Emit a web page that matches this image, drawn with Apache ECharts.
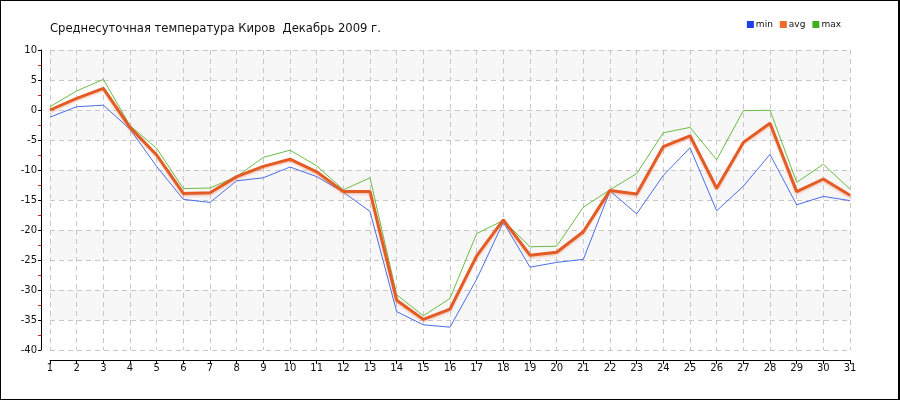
<!DOCTYPE html>
<html><head><meta charset="utf-8">
<script src="https://cdn.jsdelivr.net/npm/echarts@6/dist/echarts.min.js"></script>
<style>
html,body{margin:0;padding:0;background:#fff;}
#c{width:900px;height:400px;box-sizing:border-box;border:1px solid #000;border-right-width:2px;}
</style></head>
<body><div id="c"></div>
<script>
const days = ['1','2','3','4','5','6','7','8','9','10','11','12','13','14','15','16','17','18','19','20','21','22','23','24','25','26','27','28','29','30','31'];
const minT = [-1.2,0.55,0.8,-3.2,-9.4,-14.9,-15.4,-11.8,-11.3,-9.5,-11.1,-13.7,-16.9,-33.6,-35.8,-36.2,-28.2,-18.7,-26.2,-25.4,-24.9,-13.5,-17.3,-10.9,-6.3,-16.8,-12.7,-7.4,-15.8,-14.4,-15.1];
const avgT = [0,1.95,3.6,-2.9,-7.5,-13.9,-13.8,-11.1,-9.4,-8.2,-10.3,-13.6,-13.6,-31.7,-34.9,-33.2,-24.3,-18.3,-24.2,-23.7,-20.3,-13.4,-14.0,-6.1,-4.3,-13.05,-5.4,-2.2,-13.6,-11.5,-14.2];
const maxT = [0.55,3.17,5.1,-2.6,-6.4,-13.1,-13.0,-11.1,-7.9,-6.7,-9.3,-13.3,-11.3,-30.8,-34.3,-31.4,-20.6,-18.4,-22.8,-22.7,-16.2,-13.3,-10.6,-3.8,-2.9,-8.3,-0.1,-0.05,-12.05,-9.05,-13.2];
const seriesNames = ['min','avg','max'];
const titleText = 'Среднесуточная температура Киров  Декабрь 2009 г.';

const chart = echarts.init(document.getElementById('c'));
const font = 'Tahoma, "DejaVu Sans", sans-serif';
chart.setOption({
  animation:false,
  backgroundColor:'#fff',
  title:{text:titleText,left:44,top:17,textStyle:{fontFamily:font,fontSize:11.6,fontWeight:'normal',color:'#111'}},
  legend:{right:52,top:14,itemWidth:7,itemHeight:7,itemGap:7,icon:'rect',
    textStyle:{fontFamily:font,fontSize:9,color:'#111',padding:[0,0,0,-3]},
    data:[{name:'min',itemStyle:{color:'#1f3fe8'}},{name:'avg',itemStyle:{color:'#ef6a2a'}},{name:'max',itemStyle:{color:'#3fb01a'}}]},
  grid:{left:49,right:48,top:49,bottom:49},
  xAxis:{type:'category',data:days,boundaryGap:false,offset:10,
    axisLine:{onZero:false,lineStyle:{color:'#000',width:1}},
    axisTick:{show:true,alignWithLabel:true,length:4,inside:false,lineStyle:{color:'#000'}},
    axisLabel:{fontFamily:font,fontSize:10,color:'#111',margin:3},
    splitLine:{show:true,lineStyle:{color:'#c8c8c8',type:[5,4]}}},
  yAxis:{type:'value',min:-40,max:10,interval:5,offset:9,
    axisLine:{show:true,lineStyle:{color:'#000'}},
    axisTick:{show:true,length:3,lineStyle:{color:'#000'}},
    minorTick:{show:true,splitNumber:2,length:3,lineStyle:{color:'#e02020'}},
    axisLabel:{fontFamily:font,fontSize:10,color:'#111',margin:4},
    splitLine:{show:true,lineStyle:{color:'#c8c8c8',type:[5,4]}},
    splitArea:{show:true,areaStyle:{color:['#ffffff','#f7f7f7']}}},
  series:[
    {name:'min',type:'line',data:minT,symbol:'none',z:2,lineStyle:{color:'#4a6ee6',width:1},itemStyle:{color:'#1f3fe8'}},
    {name:'max',type:'line',data:maxT,symbol:'none',z:3,lineStyle:{color:'#6cbc44',width:1},itemStyle:{color:'#3fb01a'}},
    {name:'avg',type:'line',data:avgT,symbol:'none',z:4,lineStyle:{color:'#e35b25',width:3,shadowColor:'rgba(230,90,40,0.3)',shadowBlur:2,shadowOffsetY:1.5},itemStyle:{color:'#ef6a2a'}}
  ]
});
</script></body></html>
